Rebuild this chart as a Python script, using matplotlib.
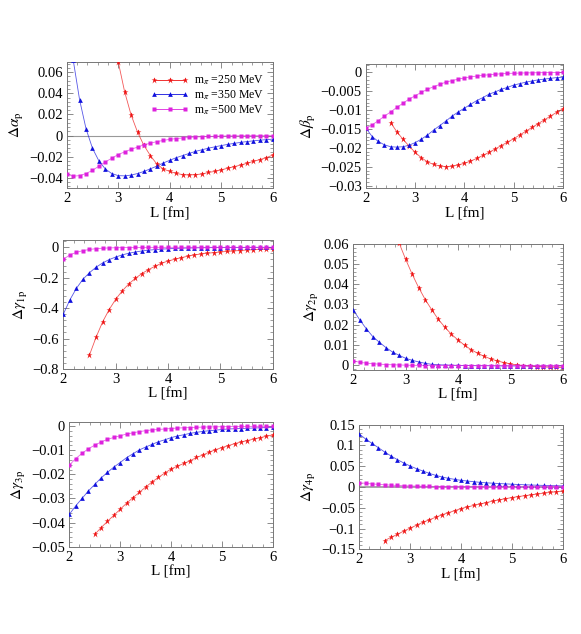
import matplotlib
matplotlib.use("Agg")
import matplotlib.pyplot as plt
from matplotlib.ticker import AutoMinorLocator, FuncFormatter, MultipleLocator
from matplotlib.lines import Line2D

plt.rcParams['font.family'] = ['Liberation Serif', 'DejaVu Serif']
plt.rcParams['mathtext.fontset'] = 'stix'
plt.rcParams['axes.unicode_minus'] = True

# ---------------- data ----------------
L_all = [2.0, 2.125, 2.25, 2.375, 2.5, 2.625, 2.75, 2.875, 3.0, 3.125, 3.25, 3.375,
         3.5, 3.625, 3.75, 3.875, 4.0, 4.125, 4.25, 4.375, 4.5, 4.625, 4.75, 4.875,
         5.0, 5.125, 5.25, 5.375, 5.5, 5.625, 5.75, 5.875, 6.0]
L_red = L_all[4:]

series_labels = [r'm$_\pi$ =250 MeV', r'm$_\pi$ =350 MeV', r'm$_\pi$ =500 MeV']

alpha_250 = [0.28, 0.21, 0.153, 0.107, 0.07, 0.0415, 0.0196, 0.0033, -0.0094, -0.019,
             -0.027, -0.0317, -0.034, -0.0359, -0.037, -0.0374, -0.037, -0.0365, -0.035,
             -0.034, -0.0325, -0.031, -0.0295, -0.028, -0.0263, -0.0245, -0.0228, -0.021, -0.0185]
alpha_350 = [0.125, 0.072, 0.034, 0.0065, -0.012, -0.024, -0.0317, -0.036, -0.038, -0.0382,
             -0.0375, -0.036, -0.034, -0.0315, -0.029, -0.026, -0.0235, -0.021, -0.019, -0.017,
             -0.015, -0.0135, -0.012, -0.0107, -0.0095, -0.0084, -0.0074, -0.0065, -0.0057,
             -0.005, -0.0044, -0.0039, -0.0034]
alpha_500 = [-0.0365, -0.0385, -0.038, -0.036, -0.033, -0.029, -0.025, -0.0215, -0.018, -0.0155,
             -0.013, -0.011, -0.0088, -0.0072, -0.0058, -0.0046, -0.0036, -0.0029, -0.0023,
             -0.0018, -0.0014, -0.0011, -0.0009, -0.0007, -0.0005, -0.0004, -0.0003, -0.00025,
             -0.0002, -0.00015, -0.0001, -0.0001, -0.00008]

beta_250 = [-0.0133, -0.0157, -0.0177, -0.0195, -0.0212, -0.0226, -0.0237, -0.0244, -0.0248,
            -0.025, -0.0249, -0.0245, -0.0241, -0.0235, -0.0228, -0.022, -0.0212, -0.0203,
            -0.0194, -0.0185, -0.0176, -0.0166, -0.0156, -0.0146, -0.0136, -0.0126, -0.0116,
            -0.0106, -0.0097]
beta_350 = [-0.0148, -0.017, -0.0183, -0.0192, -0.0197, -0.0198, -0.0197, -0.0193, -0.0186,
            -0.0177, -0.0166, -0.0153, -0.0141, -0.0129, -0.0116, -0.0105, -0.0095, -0.0085,
            -0.0075, -0.0067, -0.0058, -0.0052, -0.0045, -0.004, -0.0034, -0.003, -0.0026,
            -0.0023, -0.002, -0.0018, -0.0016, -0.0014, -0.0013]
beta_500 = [-0.0148, -0.0139, -0.0128, -0.0116, -0.0105, -0.0093, -0.0082, -0.0071, -0.0062,
            -0.0053, -0.0045, -0.0038, -0.0032, -0.0026, -0.0022, -0.0018, -0.0015, -0.0012,
            -0.001, -0.0008, -0.00065, -0.0005, -0.0004, -0.0003, -0.00025, -0.0002, -0.00016,
            -0.00013, -0.0001, -0.00008, -0.00006, -0.00005, -0.00004]

g1_250 = [-0.708, -0.592, -0.491, -0.41, -0.342, -0.287, -0.241, -0.204, -0.173, -0.147,
          -0.125, -0.105, -0.09, -0.079, -0.068, -0.059, -0.05, -0.044, -0.039, -0.035,
          -0.031, -0.027, -0.024, -0.021, -0.018, -0.016, -0.014, -0.012, -0.0105]
g1_350 = [-0.44, -0.346, -0.27, -0.21, -0.167, -0.131, -0.103, -0.081, -0.064, -0.05,
          -0.039, -0.031, -0.024, -0.019, -0.015, -0.012, -0.0095, -0.0075, -0.006, -0.0048,
          -0.0038, -0.003, -0.0024, -0.0019, -0.0015, -0.0012, -0.001, -0.0008, -0.0006,
          -0.0005, -0.0004, -0.0003, -0.00025]
g1_500 = [-0.079, -0.05, -0.033, -0.022, -0.014, -0.009, -0.006, -0.004, -0.0028, -0.002,
          -0.0014, -0.001, -0.0007, -0.0005, -0.0004, -0.0003, -0.0002, -0.00015, -0.0001,
          -0.0001, -0.00008, -0.00006, -0.00005, -0.00004, -0.00003, -0.00003, -0.00002,
          -0.00002, -0.00002, -0.00001, -0.00001, -0.00001, -0.00001]

g2_250 = [0.094, 0.081, 0.07, 0.0605, 0.0524, 0.045, 0.0383, 0.0324, 0.0273, 0.0226, 0.0187,
          0.0152, 0.0124, 0.0098, 0.0076, 0.0058, 0.0043, 0.003, 0.002, 0.0012, 0.0005, 0.0,
          -0.0003, -0.0006, -0.0008, -0.001, -0.0011, -0.0012, -0.0012]
g2_350 = [0.0273, 0.0223, 0.0179, 0.014, 0.0112, 0.0086, 0.0064, 0.0048, 0.0033, 0.0023,
          0.0015, 0.0008, 0.0003, 0.0001, 0.0, -0.0001, -0.0002, -0.0003, -0.0003, -0.0004,
          -0.0004, -0.0004, -0.0005, -0.0005, -0.0005, -0.0005, -0.0005, -0.0005, -0.0005,
          -0.0005, -0.0005, -0.0005, -0.0005]
g2_500 = [0.002, 0.0013, 0.0009, 0.0006, 0.0004, 0.0002, 0.0001, 0.0, -0.0001, -0.0002,
          -0.0002, -0.0003, -0.0003, -0.0003, -0.0003, -0.0003, -0.0003, -0.0003, -0.0003,
          -0.0003, -0.0003, -0.0003, -0.0003, -0.0003, -0.0003, -0.0003, -0.0003, -0.0003,
          -0.0003, -0.0003, -0.0003, -0.0003, -0.0003]

g3_250 = [-0.0449, -0.0421, -0.0395, -0.037, -0.0345, -0.032, -0.0297, -0.0275, -0.0253,
          -0.0232, -0.0213, -0.0195, -0.0178, -0.0166, -0.0155, -0.0144, -0.013, -0.012,
          -0.0108, -0.0098, -0.0089, -0.0081, -0.0073, -0.0066, -0.006, -0.0054, -0.0048,
          -0.0042, -0.0037]
g3_350 = [-0.0366, -0.0331, -0.03, -0.0269, -0.0242, -0.0215, -0.0192, -0.017, -0.0151,
          -0.0131, -0.0115, -0.0099, -0.0087, -0.0076, -0.0065, -0.0057, -0.0048, -0.0041,
          -0.0036, -0.003, -0.0026, -0.0022, -0.0019, -0.0017, -0.0014, -0.0012, -0.0011,
          -0.001, -0.0009, -0.0008, -0.0007, -0.0006, -0.0005]
g3_500 = [-0.0162, -0.0135, -0.0113, -0.0094, -0.0079, -0.0066, -0.0055, -0.0047, -0.004,
          -0.0033, -0.0028, -0.0023, -0.0019, -0.0016, -0.0014, -0.0012, -0.001, -0.0008,
          -0.0007, -0.0006, -0.0005, -0.0004, -0.00035, -0.0003, -0.00025, -0.0002, -0.0002,
          -0.00015, -0.00015, -0.0001, -0.0001, -0.0001, -0.0001]

g4_250 = [-0.129, -0.121, -0.114, -0.106, -0.099, -0.092, -0.085, -0.079, -0.073, -0.067,
          -0.062, -0.057, -0.052, -0.048, -0.0445, -0.041, -0.0375, -0.034, -0.031, -0.028,
          -0.0255, -0.023, -0.021, -0.019, -0.017, -0.015, -0.013, -0.0115, -0.0097]
g4_350 = [0.1275, 0.1155, 0.105, 0.0947, 0.0842, 0.0746, 0.0658, 0.0578, 0.0505, 0.0441,
          0.0385, 0.0329, 0.0281, 0.0241, 0.0209, 0.0184, 0.016, 0.0144, 0.0128, 0.0112,
          0.01, 0.0092, 0.0083, 0.0075, 0.0068, 0.006, 0.0054, 0.0048, 0.0043, 0.0038,
          0.0034, 0.003, 0.0027]
g4_500 = [0.0104, 0.0088, 0.0075, 0.0063, 0.0053, 0.0045, 0.0037, 0.0031, 0.0026, 0.0021,
          0.0018, 0.0015, 0.0012, 0.001, 0.0008, 0.0007, 0.0006, 0.0005, 0.0004, 0.0003,
          0.0003, 0.0002, 0.0002, 0.0002, 0.0001, 0.0001, 0.0001, 0.0001, 0.0001, 0.0001,
          0.0001, 0.0001, 0.0001]

ylabels = [r'$\Delta\alpha_{\mathrm{p}}$', r'$\Delta\beta_{\mathrm{p}}$',
           r'$\Delta\gamma_{1\,\mathrm{p}}$', r'$\Delta\gamma_{2\,\mathrm{p}}$',
           r'$\Delta\gamma_{3\,\mathrm{p}}$', r'$\Delta\gamma_{4\,\mathrm{p}}$']
xlabel = 'L [fm]'

# ---------------- layout/style ----------------
W, H = 581, 634
fig = plt.figure(figsize=(W / 100, H / 100), dpi=100)

def box(x0, x1, ytop, ybot):
    return [x0 / W, 1 - ybot / H, (x1 - x0) / W, (ybot - ytop) / H]

panels = [
    dict(pos=box(66.7, 272.7, 61.7, 188.3), data=(alpha_250, alpha_350, alpha_500),
         ylim=(-0.05, 0.07), ymaj=0.02, zero=True),
    dict(pos=box(366, 562.7, 64, 188.3), data=(beta_250, beta_350, beta_500),
         ylim=(-0.0307, 0.0022), ymaj=0.005, zero=False),
    dict(pos=box(63.3, 272.7, 239.7, 369), data=(g1_250, g1_350, g1_500),
         ylim=(-0.8, 0.05), ymaj=0.2, zero=False),
    dict(pos=box(353.3, 562.7, 244, 370), data=(g2_250, g2_350, g2_500),
         ylim=(-0.0025, 0.06), ymaj=0.01, zero=False),
    dict(pos=box(69.3, 272.7, 422, 546.7), data=(g3_250, g3_350, g3_500),
         ylim=(-0.05, 0.0017), ymaj=0.01, zero=False),
    dict(pos=box(359.3, 562.7, 424.7, 549.3), data=(g4_250, g4_350, g4_500),
         ylim=(-0.15, 0.15), ymaj=0.05, zero=True),
]

colors = ['#ee1111', '#1010dd', '#dd22dd']
markers = ['*', '^', 's']
msizes = [4.8, 3.4, 2.2]
frame_col = '#777777'


def _fmt(v, p):
    if abs(v) < 1e-9:
        return '0'
    return ('%g' % round(v, 6)).replace('-', '\u2212')


fmt = FuncFormatter(_fmt)

for i, pnl in enumerate(panels):
    ax = fig.add_axes(pnl['pos'])
    if pnl['zero']:
        ax.axhline(0, color='#999999', lw=0.8 if i == 0 else 1.2, zorder=1)
    xs = [L_red, L_all, L_all]
    for k in range(3):
        ax.plot(xs[k], pnl['data'][k], color=colors[k], lw=0.6, alpha=0.7,
                zorder=2)
        ax.plot(xs[k], pnl['data'][k], ls='none', marker=markers[k],
                ms=msizes[k], color=colors[k], mec='none', zorder=3,
                label=series_labels[k])
    ax.set_xlim(2, 6)
    ax.set_ylim(*pnl['ylim'])
    ax.xaxis.set_major_locator(MultipleLocator(1))
    ax.yaxis.set_major_locator(MultipleLocator(pnl['ymaj']))
    ax.xaxis.set_minor_locator(AutoMinorLocator(5))
    ax.yaxis.set_minor_locator(AutoMinorLocator(5))
    ax.yaxis.set_major_formatter(fmt)
    ax.xaxis.set_major_formatter(fmt)
    ax.tick_params(which='both', direction='in', top=True, right=True,
                   color=frame_col, labelsize=10.5, pad=3)
    ax.tick_params(which='major', length=4, width=0.6)
    ax.tick_params(which='minor', length=2, width=0.5)
    for s in ax.spines.values():
        s.set_color(frame_col)
        s.set_linewidth(0.7)
    ax.set_xlabel(xlabel, fontsize=11, labelpad=1)
    ax.set_ylabel(ylabels[i], fontsize=11, labelpad=2)
    if i == 0:
        handles = [Line2D([], [], color=colors[k], lw=0.6, marker=markers[k],
                          ms=msizes[k], mec='none') for k in range(3)]
        ax.legend(handles, series_labels, loc='upper right', frameon=False,
                  fontsize=8.5, numpoints=3, handlelength=3.2, handletextpad=0.5,
                  labelspacing=0.1, borderaxespad=0.3,
                  bbox_to_anchor=(1.0, 0.97))

fig.savefig('out.png', dpi=100)
